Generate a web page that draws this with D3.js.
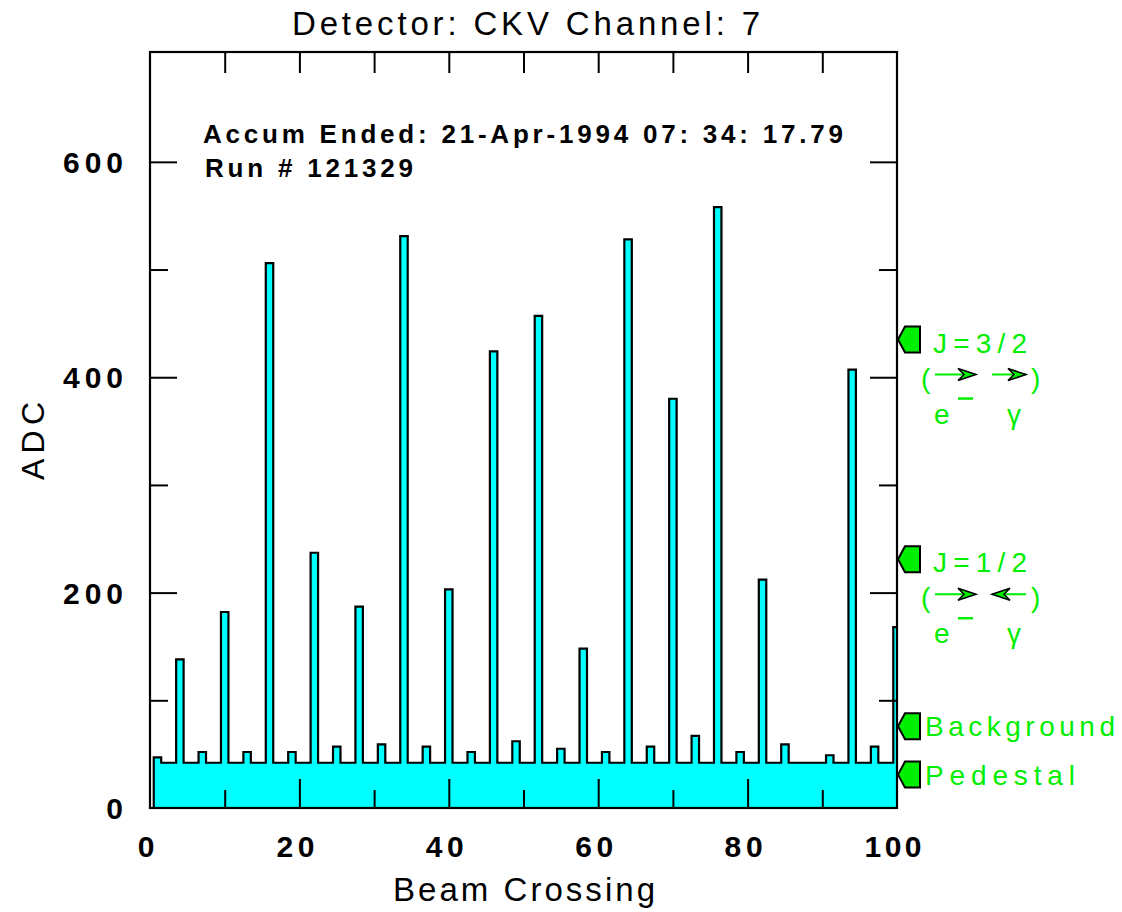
<!DOCTYPE html>
<html>
<head>
<meta charset="utf-8">
<script src="https://cdn.jsdelivr.net/npm/d3@7"></script>
<style>
  html, body { margin: 0; padding: 0; background: #ffffff; }
  svg { display: block; }
  text { font-family: "Liberation Sans", Arial, Helvetica, sans-serif; }
  .narrow { font-family: "Liberation Sans Narrow", "Liberation Sans", Arial, sans-serif; }
</style>
</head>
<body>
<svg id="chart" width="1122" height="912"></svg>
<script>
// ---------------- data ----------------
const crossings = d3.range(1, 101); // beam crossing bins 1..100
const adc = [
  47, 42, 42, 138, 42, 42, 52, 42, 42, 182,
  42, 42, 52, 42, 42, 506, 42, 42, 52, 42,
  42, 237, 42, 42, 57, 42, 42, 187, 42, 42,
  59, 42, 42, 531, 42, 42, 57, 42, 42, 203,
  42, 42, 52, 42, 42, 424, 42, 42, 62, 42,
  42, 457, 42, 42, 55, 42, 42, 148, 42, 42,
  52, 42, 42, 528, 42, 42, 57, 42, 42, 380,
  42, 42, 67, 42, 42, 558, 42, 42, 52, 42,
  42, 212, 42, 42, 59, 42, 42, 42, 42, 42,
  49, 42, 42, 407, 42, 42, 57, 42, 42, 168
];
const xTickLabels = [0, 20, 40, 60, 80, 100];
const xMinorTicks = [10, 30, 50, 70, 90];
const xTopTicks = [10, 20, 30, 40, 50, 60, 70, 80, 90];
const yTickLabels = [0, 200, 400, 600];
const yMinorTicks = [100, 300, 500];
const markerLabels = ["J=3/2", "J=1/2", "Background", "Pedestal"];
const markerValues = [435, 231, 76, 31];
const titleText = "Detector: CKV Channel: 7";
const xTitle = "Beam Crossing";
const yTitle = "ADC";
const infoLines = ["Accum Ended: 21-Apr-1994  07: 34: 17.79", "Run # 121329"];

// ---------------- layout ----------------
const svg = d3.select("#chart");
const L = 150, R = 897, T = 52, B = 808;
const x = d3.scaleLinear().domain([0, 100]).range([L, R]);
const y = d3.scaleLinear().domain([0, 702]).range([B, T]);
const CYAN = "#00ffff";
const GREEN = "#00ee00";

svg.append("defs").append("clipPath").attr("id", "plotclip")
  .append("rect").attr("x", L).attr("y", T).attr("width", R - L).attr("height", B - T);

// histogram points (step after)
const pts = [[crossings[0] - 0.5, 0]];
crossings.forEach((c, i) => pts.push([c - 0.5, adc[i]]));
pts.push([crossings[crossings.length - 1] + 0.5, adc[adc.length - 1]]);
pts.push([crossings[crossings.length - 1] + 0.5, 0]);

const area = d3.area().x(d => x(d[0])).y0(y(0)).y1(d => y(d[1])).curve(d3.curveStepAfter);
const line = d3.line().x(d => x(d[0])).y(d => y(d[1])).curve(d3.curveStepAfter);

const plot = svg.append("g").attr("clip-path", "url(#plotclip)");
plot.append("path").datum(pts).attr("d", area).attr("fill", CYAN);
plot.append("path").datum(pts).attr("d", line).attr("fill", "none")
  .attr("stroke", "#000").attr("stroke-width", 2.2).attr("stroke-linejoin", "miter");

// ---------------- axes ----------------
function styleAxis(g) {
  g.select(".domain").remove();
  g.selectAll(".tick line").attr("stroke", "#000").attr("stroke-width", 2);
  g.selectAll(".tick text").remove();
}
svg.append("g").attr("transform", `translate(0,${B})`)
  .call(d3.axisBottom(x).tickValues(xTickLabels.filter(v => v > 0 && v < 100)).tickSize(-29)).call(styleAxis);
svg.append("g").attr("transform", `translate(0,${B})`)
  .call(d3.axisBottom(x).tickValues(xMinorTicks).tickSize(-18)).call(styleAxis);
svg.append("g").attr("transform", `translate(0,${T})`)
  .call(d3.axisTop(x).tickValues(xTopTicks).tickSize(-21)).call(styleAxis);
svg.append("g").attr("transform", `translate(${L},0)`)
  .call(d3.axisLeft(y).tickValues(yTickLabels.filter(v => v > 0)).tickSize(-27)).call(styleAxis);
svg.append("g").attr("transform", `translate(${L},0)`)
  .call(d3.axisLeft(y).tickValues(yMinorTicks).tickSize(-18)).call(styleAxis);
svg.append("g").attr("transform", `translate(${R},0)`)
  .call(d3.axisRight(y).tickValues(yTickLabels.filter(v => v > 0)).tickSize(-27)).call(styleAxis);
svg.append("g").attr("transform", `translate(${R},0)`)
  .call(d3.axisRight(y).tickValues(yMinorTicks).tickSize(-18)).call(styleAxis);

// frame
svg.append("rect").attr("x", L).attr("y", T).attr("width", R - L).attr("height", B - T)
  .attr("fill", "none").attr("stroke", "#000").attr("stroke-width", 2.2);

// tick labels
svg.append("g").selectAll("text").data(xTickLabels).join("text")
  .attr("class", "narrow")
  .attr("x", d => x(d) - 4).attr("y", 857)
  .attr("text-anchor", "middle").attr("font-size", 30).attr("font-weight", "bold")
  .attr("textLength", d => String(d).length * 19).attr("lengthAdjust", "spacing")
  .text(d => d);
svg.append("g").selectAll("text").data(yTickLabels).join("text")
  .attr("class", "narrow")
  .attr("x", 123).attr("y", d => y(d) + 11)
  .attr("text-anchor", "end").attr("font-size", 30).attr("font-weight", "bold")
  .attr("textLength", d => String(d).length * 20).attr("lengthAdjust", "spacing")
  .text(d => d);

// titles
svg.append("text").attr("x", 526).attr("y", 35).attr("text-anchor", "middle")
  .attr("class", "narrow").attr("font-size", 33)
  .attr("textLength", 468).attr("lengthAdjust", "spacing").text(titleText);
svg.append("text").attr("x", 524).attr("y", 901).attr("text-anchor", "middle")
  .attr("class", "narrow").attr("font-size", 33)
  .attr("textLength", 262).attr("lengthAdjust", "spacing").text(xTitle);
svg.append("text").attr("transform", "translate(44,441) rotate(-90)").attr("text-anchor", "middle")
  .attr("font-size", 32).attr("textLength", 78).attr("lengthAdjust", "spacing").text(yTitle);

// info text
svg.append("text").attr("x", 203).attr("y", 143).attr("font-size", 26).attr("font-weight", "bold")
  .attr("textLength", 640).attr("lengthAdjust", "spacing").text(infoLines[0]);
svg.append("text").attr("x", 205).attr("y", 177).attr("font-size", 26).attr("font-weight", "bold")
  .attr("textLength", 208).attr("lengthAdjust", "spacing").text(infoLines[1]);

// ---------------- right-hand markers ----------------
const mk = svg.append("g");
markerValues.forEach((v, i) => {
  const my = y(v);
  const tx = R + 1;
  mk.append("path")
    .attr("d", `M${tx},${my} L${tx + 7},${my - 13} L${tx + 22},${my - 13} L${tx + 22},${my + 13} L${tx + 7},${my + 13} Z`)
    .attr("fill", GREEN).attr("stroke", "#000").attr("stroke-width", 2);
  const isJ = markerLabels[i].startsWith("J");
  mk.append("text")
    .attr("x", isJ ? 933 : 925).attr("y", my + (isJ ? 13 : 10))
    .attr("font-size", 28).attr("fill", GREEN)
    .attr("textLength", isJ ? 94 : (markerLabels[i] === "Background" ? 190 : 150))
    .attr("lengthAdjust", "spacing")
    .text(markerLabels[i]);
  if (isJ) {
    const ay = my + 35;       // arrow row
    const g = mk.append("g");
    g.append("text").attr("x", 921).attr("y", ay + 13).attr("font-size", 28).attr("fill", GREEN).text("(");
    g.append("text").attr("x", 1031).attr("y", ay + 13).attr("font-size", 28).attr("fill", GREEN).text(")");
    g.append("line").attr("x1", 935).attr("x2", 975).attr("y1", ay).attr("y2", ay)
      .attr("stroke", GREEN).attr("stroke-width", 2);
    const head = (tipX, dir) =>
      `M${tipX},${ay} L${tipX - dir * 18},${ay - 6} L${tipX - dir * 12},${ay} L${tipX - dir * 18},${ay + 6} Z`;
    g.append("path").attr("d", head(976, 1)).attr("fill", GREEN).attr("stroke", "#000").attr("stroke-width", 1.5);
    const right = markerLabels[i] === "J=3/2";
    g.append("line").attr("x1", 992).attr("x2", 1026).attr("y1", ay).attr("y2", ay)
      .attr("stroke", GREEN).attr("stroke-width", 2);
    g.append("path").attr("d", right ? head(1026, 1) : head(992, -1))
      .attr("fill", GREEN).attr("stroke", "#000").attr("stroke-width", 1.5);
    g.append("text").attr("x", 934).attr("y", my + 84).attr("font-size", 28).attr("fill", GREEN).text("e");
    g.append("line").attr("x1", 958).attr("x2", 973).attr("y1", my + 59).attr("y2", my + 59)
      .attr("stroke", GREEN).attr("stroke-width", 2.5);
    g.append("text").attr("x", 1007).attr("y", my + 84).attr("font-size", 28).attr("fill", GREEN).text("γ");
  }
});
</script>
</body>
</html>
